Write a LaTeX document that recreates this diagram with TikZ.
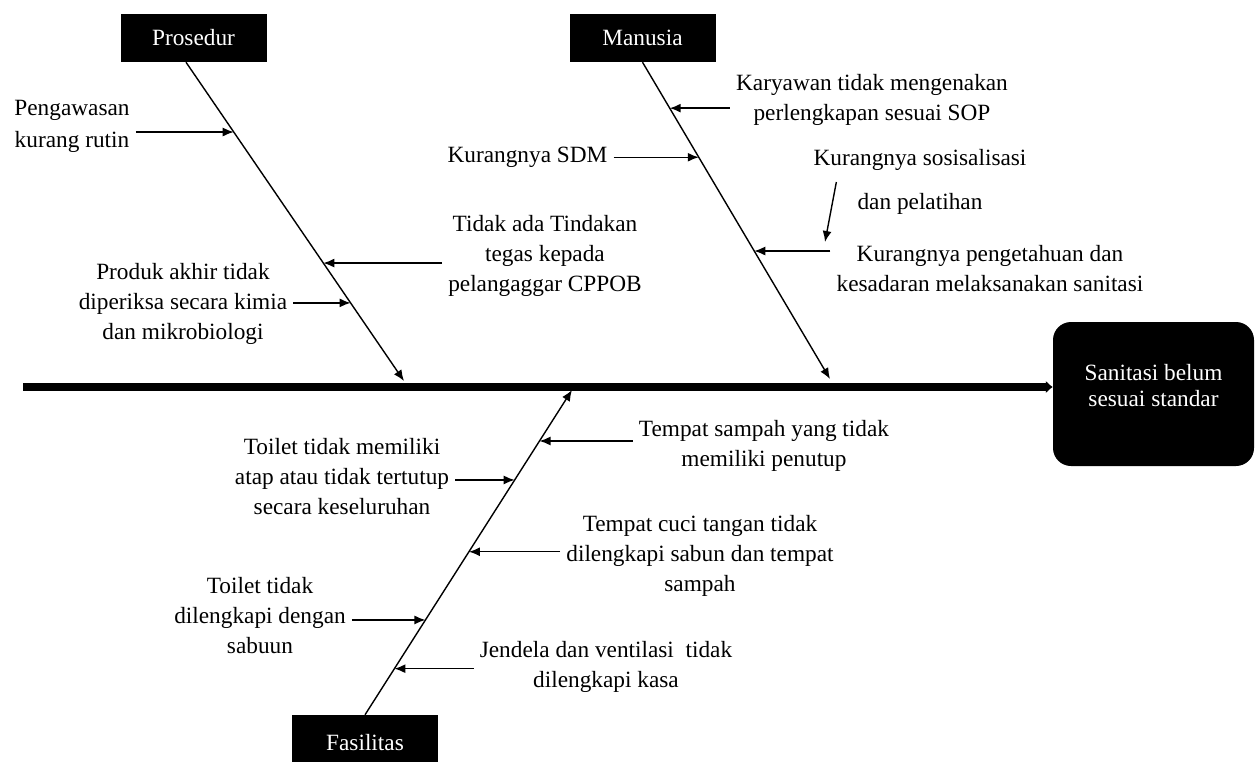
\documentclass[tikz,border=0pt]{standalone}
\usepackage{fontspec}
\setmainfont{Liberation Serif}
\usetikzlibrary{arrows.meta,positioning}

\begin{document}
\begin{tikzpicture}[
  x = 1pt, y = -1pt,
  every node/.style = {font = \fontsize{23.3}{30}\selectfont},
  head/.style = {rectangle, fill = black, text = white, minimum width = 146pt, minimum height = 48pt, inner sep = 0pt},
  effectbox/.style = {rectangle, rounded corners = 18pt, fill = black, minimum width = 201pt, minimum height = 144pt},
  cause/.style = {align = center, inner xsep = 6pt, inner ysep = 2pt},
  spine/.style = {line width = 7.5pt, -{Latex[length = 7pt, width = 13pt]}},
  bone/.style = {line width = 1.4pt, -{Latex[length = 11pt, width = 9pt]}},
  sub/.style = {line width = 1.4pt, -{Latex[length = 11pt, width = 9pt]}}
]
  \useasboundingbox (0,0) rectangle (1256,761);

  % heads and effect
  \node[head] (prosedur) at (193.5, 38) {Prosedur};
  \node[head] (manusia)  at (642.5, 38) {Manusia};
  \node[head, minimum height = 56pt] (fasilitas) at (365, 743) {Fasilitas};
  \node[effectbox] (effect) at (1153.5, 394) {};
  \node[text = white, align = center] (effecttext) at ([yshift = 8pt]effect.center) {Sanitasi belum\\[-4pt]sesuai standar};

  % spine and bones
  \coordinate (tail) at (23, 387);
  \coordinate (ptip) at (404, 381);
  \coordinate (mtip) at (830, 379);
  \coordinate (ftip) at (572, 390);
  \draw[spine] (tail) -- (tail -| effect.west);
  \draw[bone] ([xshift = -7.5pt]prosedur.south) -- (ptip);
  \draw[bone] (manusia.south) -- (mtip);
  \draw[bone] (fasilitas.north) -- (ftip);

  \path ([xshift = -7.5pt]prosedur.south) -- (ptip)
    coordinate[pos = 0.219] (p1) coordinate[pos = 0.630] (p2) coordinate[pos = 0.755] (p3);
  \path (manusia.south) -- (mtip)
    coordinate[pos = 0.145] (m1) coordinate[pos = 0.300] (m2) coordinate[pos = 0.596] (m3);
  \path (fasilitas.north) -- (ftip)
    coordinate[pos = 0.843] (f1) coordinate[pos = 0.723] (f2) coordinate[pos = 0.502] (f3)
    coordinate[pos = 0.292] (f4) coordinate[pos = 0.142] (f5);

  % causes
  \node[cause] (pengawasan)  at (72, 126)    {Pengawasan\\[2pt]kurang rutin};
  \node[cause] (tindakan)    at (545, 256)   {Tidak ada Tindakan\\tegas kepada\\pelangaggar CPPOB};
  \node[cause] (produk)      at (183, 304)   {Produk akhir tidak\\diperiksa secara kimia\\dan mikrobiologi};
  \node[cause] (karyawan)    at (872, 100)   {Karyawan tidak mengenakan\\perlengkapan sesuai SOP};
  \node[cause] (sdm)         at (527.5, 157) {Kurangnya SDM};
  \node[cause] (sosialisasi) at (920, 182)   {Kurangnya sosisalisasi\\[14pt]dan pelatihan};
  \node[cause] (pengetahuan) at (990, 269)   {Kurangnya pengetahuan dan\\kesadaran melaksanakan sanitasi};
  \node[cause] (sampah)      at (764, 446)   {Tempat sampah yang tidak\\memiliki penutup};
  \node[cause] (atap)        at (342, 477)   {Toilet tidak memiliki\\atap atau tidak tertutup\\secara keseluruhan};
  \node[cause] (cuci)        at (700, 556)   {Tempat cuci tangan tidak\\dilengkapi sabun dan tempat\\sampah};
  \node[cause] (sabun)       at (260, 616)   {Toilet tidak\\dilengkapi dengan\\sabuun};
  \node[cause] (jendela)     at (606, 667)   {Jendela dan ventilasi\ \ tidak\\dilengkapi kasa};

  % cause arrows
  \draw[sub] (p1 -| pengawasan.east) -- (p1);
  \draw[sub] (p2 -| tindakan.west) -- (p2);
  \draw[sub] (p3 -| produk.east) -- (p3);
  \draw[sub] (m1 -| karyawan.west) -- (m1);
  \draw[sub] (m2 -| sdm.east) -- (m2);
  \draw[sub] (m3 -| pengetahuan.west) -- (m3);
  \coordinate (stip) at (825, 242);
  \draw[sub] ([xshift = 29pt]sosialisasi.west) -- (stip);
  \draw[sub] (f1 -| sampah.west) -- (f1);
  \draw[sub] (f2 -| atap.east) -- (f2);
  \draw[sub] (f3 -| cuci.west) -- (f3);
  \draw[sub] (f4 -| sabun.east) -- (f4);
  \draw[sub] (f5 -| jendela.west) -- (f5);
\end{tikzpicture}
\end{document}
